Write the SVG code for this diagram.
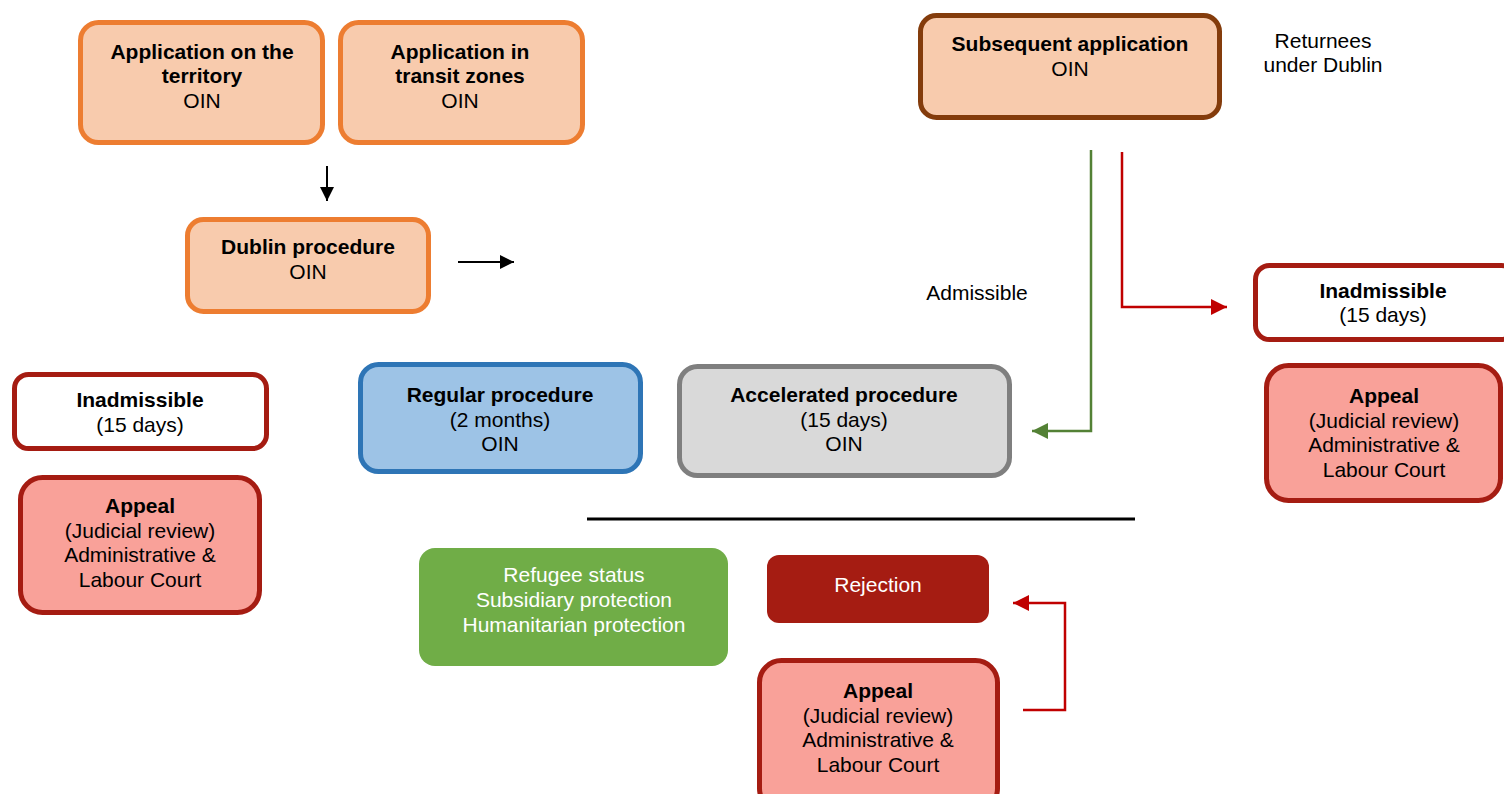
<svg xmlns="http://www.w3.org/2000/svg" width="1504" height="794" viewBox="0 0 1504 794">
<style>
text{font-family:"Liberation Sans",Arial,sans-serif;font-size:21px;fill:#000;text-anchor:middle}
.b{font-weight:bold}
.w{fill:#fff}
.app{fill:#F8CBAD;stroke:#ED7D31;stroke-width:5}
.red{fill:#fff;stroke:#A51C12;stroke-width:5}
.appeal{fill:#F9A199;stroke:#A51C12;stroke-width:5}
</style>
<defs>
<marker id="ab" markerUnits="userSpaceOnUse" markerWidth="16" markerHeight="16" refX="14" refY="7" orient="auto"><path d="M0,0 L14,7 L0,14 Z" fill="#000"/></marker>
<marker id="ag" markerUnits="userSpaceOnUse" markerWidth="18" markerHeight="18" refX="16" refY="8" orient="auto"><path d="M0,0 L16,8 L0,16 Z" fill="#538135"/></marker>
<marker id="ar" markerUnits="userSpaceOnUse" markerWidth="18" markerHeight="18" refX="16" refY="8" orient="auto"><path d="M0,0 L16,8 L0,16 Z" fill="#C00000"/></marker>
</defs>
<rect width="1504" height="794" fill="#fff"/>
<g id="n-territory"><rect class="app" x="80.5" y="22.5" width="242" height="120" rx="18"/><text x="202" y="58.5" class="b">Application on the</text><text x="202" y="83" class="b">territory</text><text x="202" y="107.5">OIN</text></g>
<g id="n-transit"><rect class="app" x="340.5" y="22.5" width="242" height="120" rx="18"/><text x="460" y="58.5" class="b">Application in</text><text x="460" y="83" class="b">transit zones</text><text x="460" y="107.5">OIN</text></g>
<g id="n-dublin"><rect class="app" x="187.5" y="219.5" width="241" height="92" rx="16"/><text x="308" y="254" class="b">Dublin procedure</text><text x="308" y="278.5">OIN</text></g>
<g id="n-subsequent"><rect x="920.5" y="15.5" width="299" height="102" rx="16" fill="#F8CBAD" stroke="#843C0C" stroke-width="5"/><text x="1070" y="51" class="b">Subsequent application</text><text x="1070" y="76">OIN</text></g>
<g id="n-returnees"><text x="1323" y="48">Returnees</text><text x="1323" y="72">under Dublin</text></g>
<g id="n-admissible"><text x="977" y="300">Admissible</text></g>
<g id="n-inadm-right"><rect class="red" x="1255.5" y="265.5" width="260" height="74" rx="14"/><text x="1383" y="298" class="b">Inadmissible</text><text x="1383" y="322">(15 days)</text></g>
<g id="n-appeal-right"><rect class="appeal" x="1266.5" y="365.5" width="234" height="135" rx="22"/><text x="1384" y="403" class="b">Appeal</text><text x="1384" y="427.5">(Judicial review)</text><text x="1384" y="452">Administrative &amp;</text><text x="1384" y="476.5">Labour Court</text></g>
<g id="n-inadm-left"><rect class="red" x="14.5" y="374.5" width="252" height="74" rx="14"/><text x="140" y="407" class="b">Inadmissible</text><text x="140" y="432">(15 days)</text></g>
<g id="n-appeal-left"><rect class="appeal" x="20.5" y="477.5" width="239" height="135" rx="22"/><text x="140" y="513" class="b">Appeal</text><text x="140" y="537.5">(Judicial review)</text><text x="140" y="562">Administrative &amp;</text><text x="140" y="586.5">Labour Court</text></g>
<g id="n-regular"><rect x="360.5" y="364.5" width="280" height="107" rx="18" fill="#9DC3E6" stroke="#2E75B6" stroke-width="5"/><text x="500" y="402" class="b">Regular procedure</text><text x="500" y="426.5">(2 months)</text><text x="500" y="451">OIN</text></g>
<g id="n-accelerated"><rect x="679.5" y="366.5" width="330" height="109" rx="18" fill="#D9D9D9" stroke="#7F7F7F" stroke-width="5"/><text x="844" y="402" class="b">Accelerated procedure</text><text x="844" y="426.5">(15 days)</text><text x="844" y="451">OIN</text></g>
<g id="n-protection"><rect x="419" y="548" width="309" height="118" rx="16" fill="#70AD47"/><text x="574" y="582" class="w">Refugee status</text><text x="574" y="607" class="w">Subsidiary protection</text><text x="574" y="631.5" class="w">Humanitarian protection</text></g>
<g id="n-rejection"><rect x="767" y="555" width="222" height="68" rx="12" fill="#A51C12"/><text x="878" y="592" class="w">Rejection</text></g>
<g id="n-appeal-bottom"><rect class="appeal" x="759.5" y="660.5" width="238" height="150" rx="22"/><text x="878" y="698" class="b">Appeal</text><text x="878" y="722.5">(Judicial review)</text><text x="878" y="747">Administrative &amp;</text><text x="878" y="771.5">Labour Court</text></g>
<g id="connectors" fill="none">
<line x1="327" y1="166" x2="327" y2="201" stroke="#000" stroke-width="2" marker-end="url(#ab)"/>
<line x1="458" y1="262" x2="514" y2="262" stroke="#000" stroke-width="2" marker-end="url(#ab)"/>
<polyline points="1091,150 1091,431 1032,431" stroke="#538135" stroke-width="2.5" marker-end="url(#ag)"/>
<polyline points="1122,152 1122,307 1227,307" stroke="#C00000" stroke-width="2.5" marker-end="url(#ar)"/>
<polyline points="1023,710 1065,710 1065,603 1013,603" stroke="#C00000" stroke-width="2.5" marker-end="url(#ar)"/>
<line x1="587" y1="519" x2="1135" y2="519" stroke="#000" stroke-width="3"/>
</g>
</svg>
